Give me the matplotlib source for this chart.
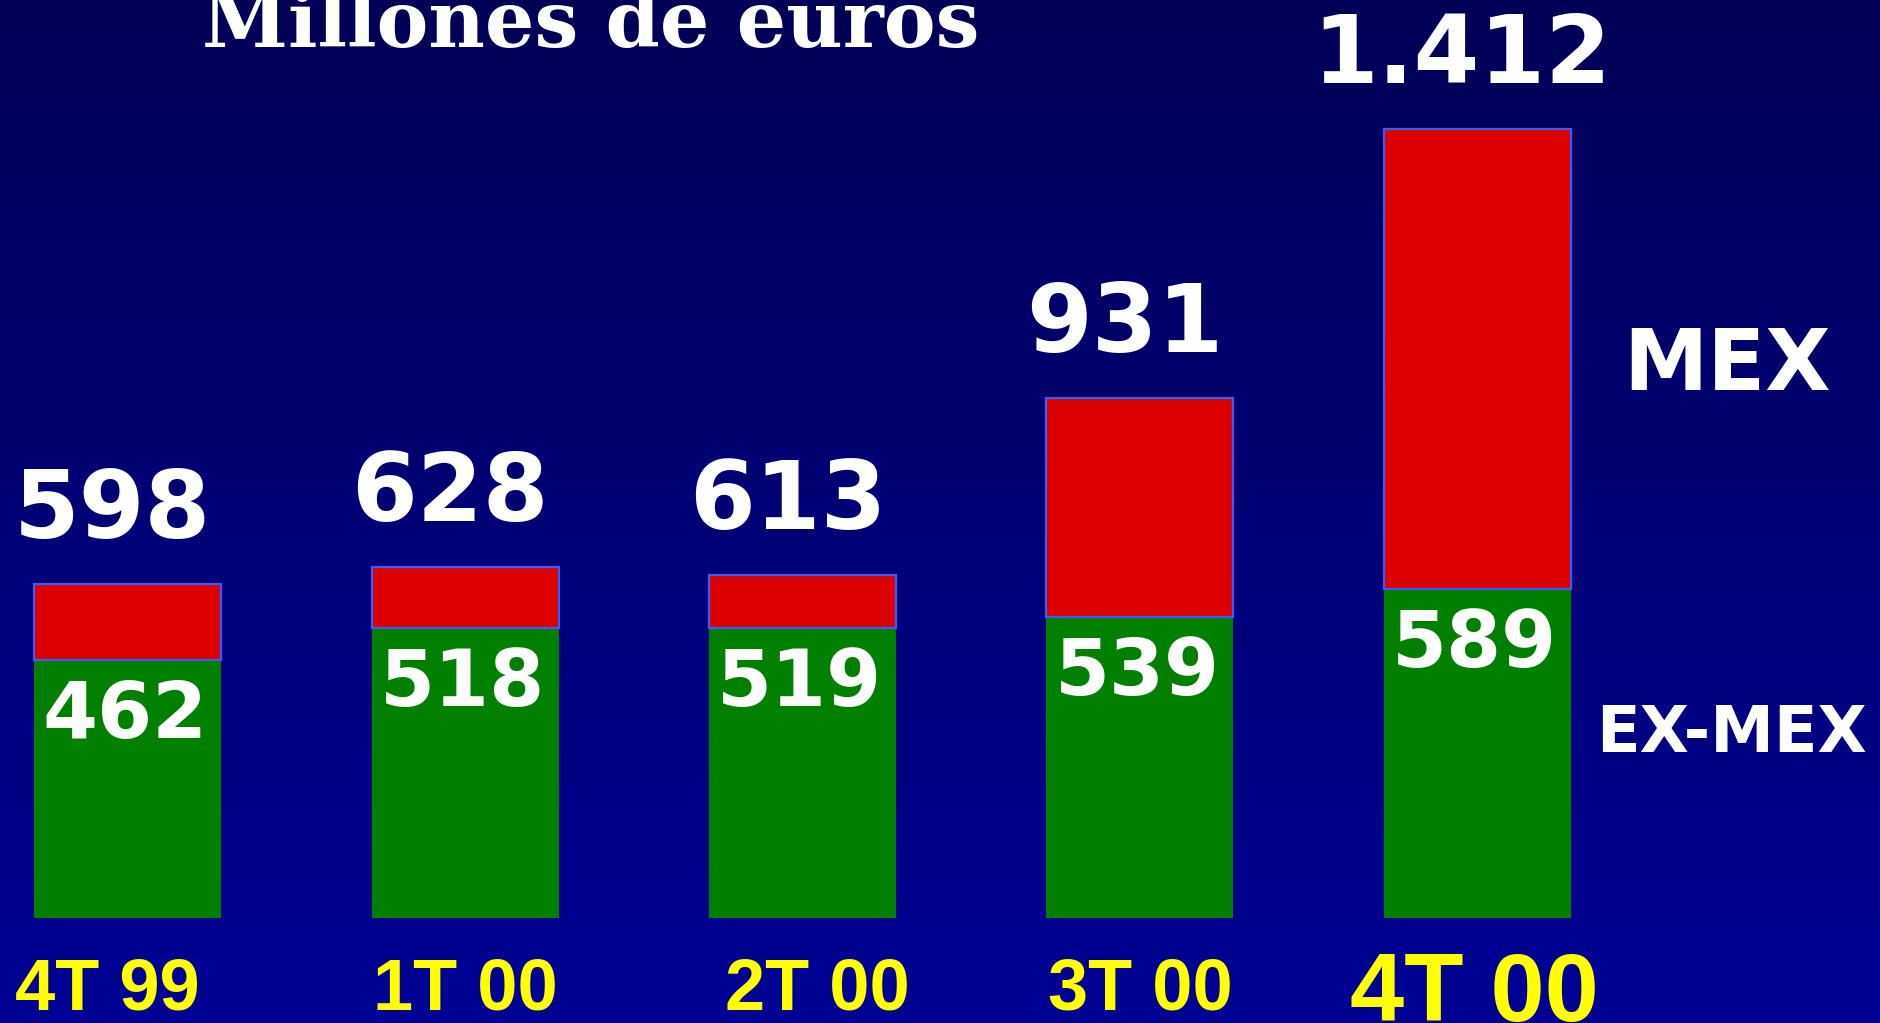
import numpy as np
import matplotlib
matplotlib.use("Agg")
import matplotlib.pyplot as plt
import matplotlib.transforms as mtrans

# ---- data ----
categories = ["4T 99", "1T 00", "2T 00", "3T 00", "4T 00"]
total_labels = ["598", "628", "613", "931", "1.412"]
exmex = [462, 518, 519, 539, 589]
totals = [598, 628, 613, 931, 1412]
mex = [t - e for t, e in zip(totals, exmex)]
title = "Millones de euros"
series_names = ["MEX", "EX-MEX"]

W, H, DPI = 1880, 1023, 100
fig = plt.figure(figsize=(W / DPI, H / DPI), dpi=DPI)
ax = fig.add_axes([0, 0, 1, 1])

x = np.arange(len(categories))
px_per_unit = 0.559
xlim = (-127.7 / 337.4, (W - 127.7) / 337.4)
ylim = (-(H - 918) / px_per_unit, 918 / px_per_unit)
ax.axis("off")

# background gradient (dark navy at top to brighter blue at bottom)
n = 256
top = np.array([0, 0, 0x56]) / 255
bot = np.array([0, 0, 0x95]) / 255
t = np.linspace(0, 1, n)[:, None]
grad = (top * (1 - t) + bot * t)[:, None, :]
ax.imshow(grad, extent=[xlim[0], xlim[1], ylim[0], ylim[1]],
          aspect="auto", origin="upper", zorder=0)
ax.set_xlim(*xlim)
ax.set_ylim(*ylim)

width = 187 / 337.4
ax.bar(x, exmex, width, color="#007f00", edgecolor="none", zorder=2)
ax.bar(x, mex, width, bottom=exmex, color="#dd0000", edgecolor="#3a5cff",
       linewidth=1.6, zorder=3)

sans_b = dict(family="DejaVu Sans", weight="bold", color="white")

for xi, tot, lab in zip(x, totals, total_labels):
    ax.annotate(lab, (xi, tot), xytext=(-15, 46), textcoords="offset pixels",
                ha="center", va="baseline", fontsize=68, zorder=5, **sans_b)

for xi, e in zip(x, exmex):
    ax.annotate(str(e), (xi, e), xytext=(-3, -18), textcoords="offset pixels",
                ha="center", va="top", fontsize=57, zorder=5, **sans_b)

# category labels
trans = mtrans.blended_transform_factory(ax.transData, fig.transFigure)
cat_dx = [-0.06, 0.0, 0.045, 0.0, -0.01]
for i, (xi, c) in enumerate(zip(x, categories)):
    last = i == len(categories) - 1
    ax.text(xi + cat_dx[i], (H - (1021 if last else 1010)) / H, c, transform=trans,
            ha="center", va="baseline", fontsize=70 if last else 52,
            family="Liberation Sans", weight="bold", color="#ffff00", zorder=5)

# series labels
fig.text(1727 / W, 1 - 390 / H, series_names[0], ha="center", va="baseline",
         fontsize=61, **sans_b)
fig.text(1731 / W, 1 - 752 / H, series_names[1], ha="center", va="baseline",
         fontsize=46, **sans_b)

# title
fig.text(591 / W, 1 - 47 / H, title, ha="center", va="baseline", fontsize=56,
         family="DejaVu Serif", weight="bold", color="white")

fig.savefig("out.png", dpi=DPI)
